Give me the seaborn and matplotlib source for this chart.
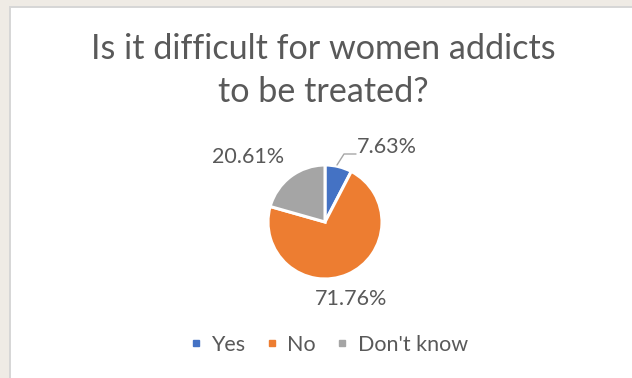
import matplotlib
matplotlib.use("Agg")
import matplotlib.pyplot as plt
from matplotlib.patches import Rectangle
from matplotlib.lines import Line2D
import seaborn as sns

# Survey answers and their shares (percent)
categories = ["Yes", "No", "Don't know"]
shares = [7.63, 71.76, 20.61]
title = "Is it difficult for women addicts\nto be treated?"

sns.set_theme(style="white")
plt.rcParams["font.family"] = ["Lato", "DejaVu Sans"]

palette = ["#4472C4", "#ED7D31", "#A5A5A5"]
text_color = "#595959"

W, H = 632, 378
fig = plt.figure(figsize=(W / 100, H / 100), dpi=100, facecolor="#EFEBE5")

# white chart area with a thin grey frame
frame = Rectangle((10 / W, -0.01), 1.0, 1 - 7 / H + 0.01, transform=fig.transFigure,
                  facecolor="white", edgecolor="#D6D6D6", linewidth=1.4, zorder=-1)
fig.patches.append(frame)

# axes in pixel units (y measured upward)
ax = fig.add_axes([0, 0, 1, 1], zorder=1)
ax.patch.set_alpha(0)

cx, cy, r = 325, H - 222, 57
wedges, _ = ax.pie(shares, colors=palette, startangle=90, counterclock=False,
                   center=(cx, cy), radius=r, frame=True,
                   wedgeprops=dict(edgecolor="white", linewidth=2.2))
ax.set_xlim(0, W)
ax.set_ylim(0, H)
ax.set_axis_off()

# data label anchors, one per category (Yes, No, Don't know)
label_pos = [(387, H - 147), (351, H - 299), (248, H - 157)]
for v, (lx, ly) in zip(shares, label_pos):
    ax.text(lx, ly, f"{v:.2f}%", ha="center", va="center", fontsize=15.5,
            color=text_color)

# leader line for the small slice
ax.plot([337, 344, 356], [H - 165, H - 154, H - 154], color="#A6A6A6", lw=1.0)

fig.text(323 / W, 1 - 33 / H, title, ha="center", va="top", fontsize=24.6,
         color=text_color, linespacing=1.42)

handles = [Line2D([], [], marker="s", linestyle="none", markersize=4.2,
                  markerfacecolor=c, markeredgecolor=c) for c in palette]
leg = fig.legend(handles, categories, loc="center", bbox_to_anchor=(329 / W, 1 - 345 / H),
                 ncol=3, frameon=False, fontsize=15.5, handlelength=0.5,
                 handletextpad=0.45, columnspacing=1.0, borderpad=0)
for t in leg.get_texts():
    t.set_color(text_color)

fig.savefig("out.png", dpi=100, facecolor=fig.get_facecolor())
